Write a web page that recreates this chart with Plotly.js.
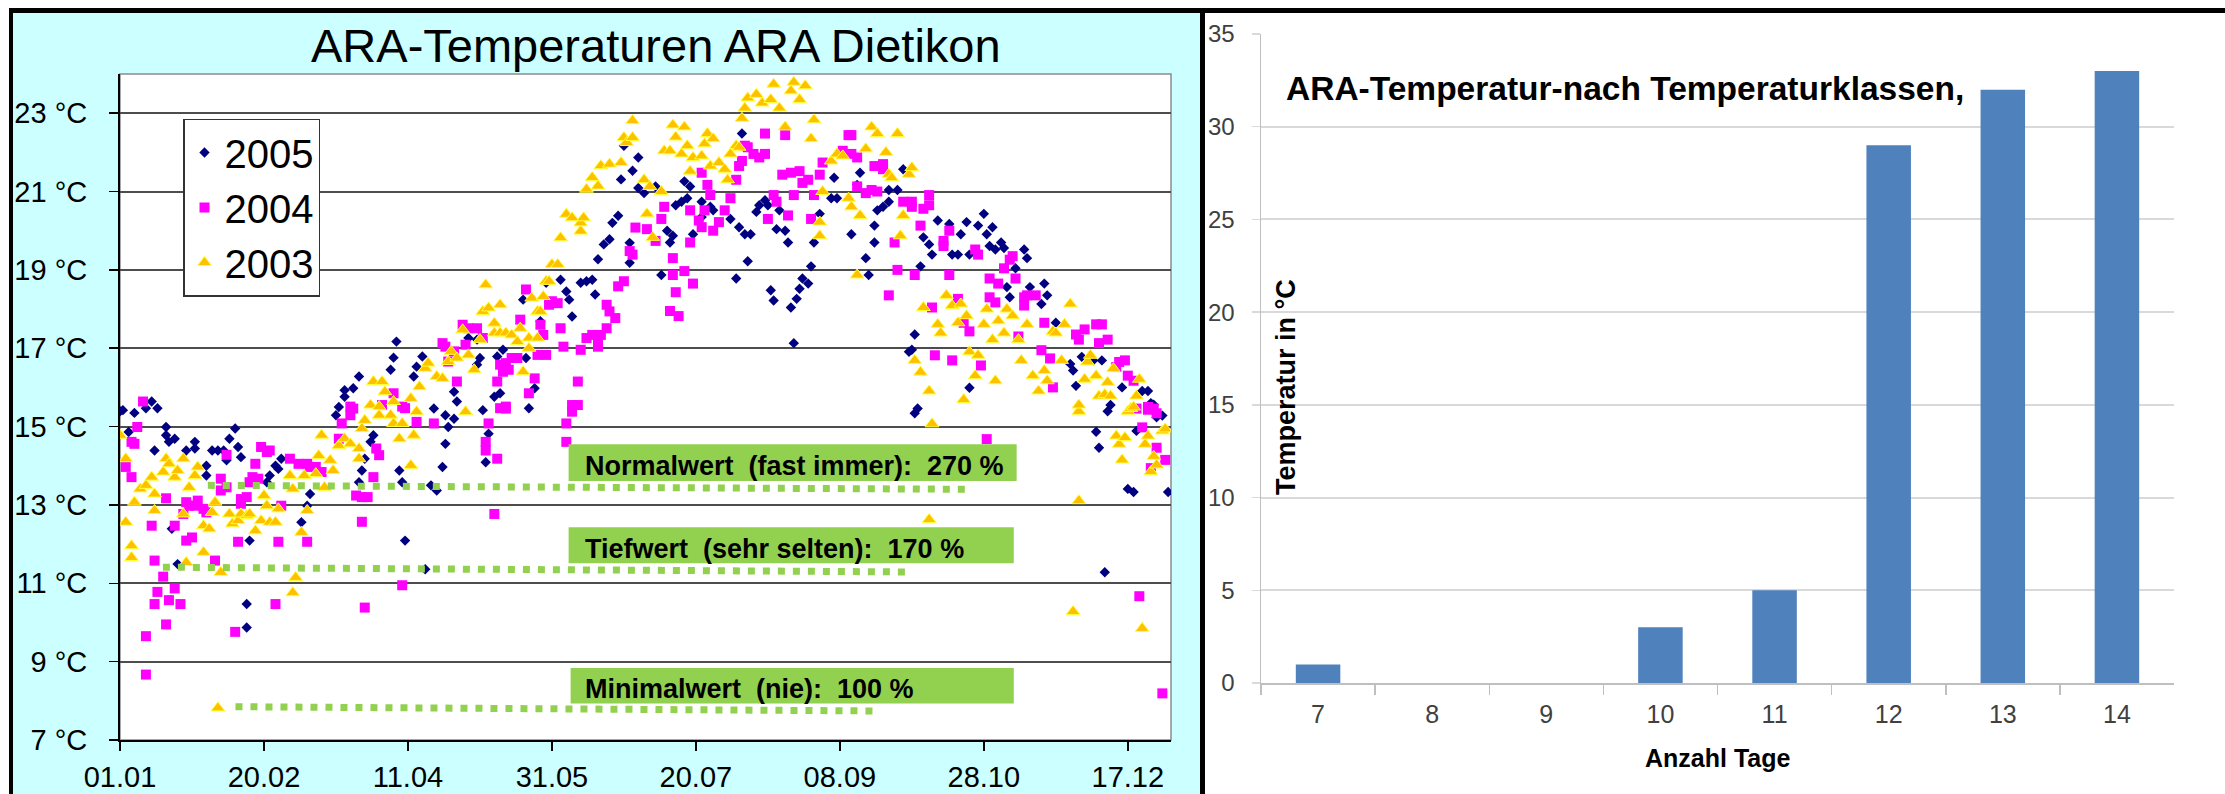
<!DOCTYPE html>
<html>
<head>
<meta charset="utf-8">
<script src="https://cdn.plot.ly/plotly-3.0.1.min.js"></script>
<style>html,body{margin:0;padding:0;background:#fff;}#chart{width:2225px;height:794px;}</style>
</head>
<body>
<div id="chart"></div>
<script>
// ---------- Left chart: daily temperatures (day of year, °C) ----------
const seriesNames = ['2005', '2004', '2003'];
const xTickDays = [0, 50, 100, 150, 200, 250, 300, 350];
const xTickLabels = ['01.01', '20.02', '11.04', '31.05', '20.07', '08.09', '28.10', '17.12'];
const yTickVals = [7, 9, 11, 13, 15, 17, 19, 21, 23];
const yTickLabels = ['7 °C', '9 °C', '11 °C', '13 °C', '15 °C', '17 °C', '19 °C', '21 °C', '23 °C'];

const day2005 = [0,1,3,5,9,11,12,13,16,16,17,18,19,20,23,26,26,30,30,32,34,36,37,38,40,41,42,44,44,45,51,52,54,55,56,63,65,66,75,76,78,78,81,83,83,84,85,87,88,94,95,96,97,98,99,102,103,105,106,108,109,110,112,113,113,114,116,116,117,121,124,124,125,126,127,128,130,131,132,133,140,141,142,144,146,148,153,155,156,157,160,162,164,165,166,168,170,171,173,174,175,177,177,178,180,180,182,186,188,190,191,192,193,195,196,197,198,199,202,202,205,206,212,214,215,216,217,218,219,221,222,224,225,226,227,228,229,231,232,233,234,235,236,237,239,240,241,243,247,248,249,254,256,257,259,260,262,262,263,265,267,267,270,272,274,275,276,276,277,278,279,281,282,284,288,289,291,292,294,295,295,298,300,301,302,303,304,306,307,308,309,311,314,315,316,320,321,322,325,330,331,332,334,338,339,340,341,342,343,344,348,350,352,353,355,357,358,359,360,362,364];
const temp2005 = [15.39,15.42,14.86,15.35,15.47,15.64,14.39,15.47,14.99,14.78,14.61,12.39,14.69,11.49,14.39,14.61,14.44,13.75,14.0,14.39,14.39,14.39,14.14,14.69,14.95,14.48,14.22,10.47,9.87,12.09,13.58,13.75,14.0,13.92,14.18,12.56,12.98,13.28,15.29,15.5,15.93,15.76,15.98,16.28,13.58,13.88,14.18,14.61,14.78,16.45,16.76,17.17,13.88,13.58,12.09,16.28,16.53,16.79,11.36,13.5,15.46,13.37,13.97,15.29,14.56,14.99,15.2,15.89,15.64,17.26,16.58,17.22,16.75,15.42,14.09,14.82,15.76,16.79,15.85,16.96,18.24,16.75,15.47,15.98,17.69,18.67,18.75,18.45,18.24,17.81,18.67,18.71,18.75,18.37,19.27,19.65,19.78,20.2,20.38,21.31,22.17,19.69,19.18,21.53,21.87,21.09,20.96,21.13,18.87,20.0,19.7,19.87,20.65,20.74,21.26,20.83,21.13,19.91,20.74,20.35,20.61,20.52,20.3,18.78,20.09,22.48,19.91,19.22,19.91,20.48,20.65,20.78,20.65,18.48,18.22,20.04,20.52,20.0,19.7,18.04,17.13,18.26,18.52,18.78,18.65,19.09,19.7,20.43,20.83,21.35,20.83,19.91,21.17,21.48,19.3,18.87,19.7,20.13,20.52,20.61,20.74,21.04,21.04,21.57,16.91,16.96,17.35,15.34,15.46,19.09,19.83,19.65,19.39,20.26,20.17,19.39,19.39,19.91,20.22,19.39,15.99,20.13,20.43,19.91,19.61,20.09,19.52,19.7,19.56,18.56,18.3,19.04,19.52,19.3,18.56,18.13,18.65,18.35,17.65,16.6,16.43,16.04,16.78,16.69,14.87,14.46,16.69,11.28,15.39,15.55,16.0,13.41,13.33,14.89,15.91,15.91,15.6,15.56,15.24,15.28,13.33];

const day2004 = [2,4,4,5,6,8,9,9,11,12,12,13,15,16,16,17,19,19,21,22,23,23,24,25,26,27,29,30,33,35,35,37,37,40,41,42,42,44,45,46,47,48,49,51,52,54,55,56,59,62,65,65,66,68,70,76,77,80,80,81,82,84,84,85,86,88,89,90,91,95,98,98,99,103,109,112,113,114,116,117,119,120,121,124,126,127,127,128,130,131,131,132,132,133,134,134,134,135,136,138,139,141,142,144,145,146,147,148,149,150,152,153,154,155,155,157,157,159,159,160,162,164,166,166,167,169,169,170,172,173,175,177,178,179,183,186,188,189,191,192,192,193,194,196,198,198,199,201,202,202,203,204,205,206,208,210,212,214,215,216,217,218,220,222,224,224,225,227,228,230,231,232,233,234,236,237,239,240,241,243,244,251,253,254,254,256,256,259,261,262,263,265,265,267,269,270,272,275,275,276,278,279,281,281,282,283,286,286,288,288,289,291,293,295,297,298,299,301,302,302,304,305,307,309,310,311,312,314,314,315,318,320,321,323,324,332,333,335,339,340,341,343,346,347,349,350,352,353,354,355,357,357,358,359,360,360,362,363];
const temp2004 = [13.97,14.61,13.71,14.56,14.99,15.64,8.67,9.65,12.47,10.47,11.58,10.78,11.17,13.17,9.95,10.57,12.47,10.87,10.47,12.77,13.07,12.09,12.98,12.17,12.98,13.11,12.9,12.81,11.58,13.37,13.67,13.45,14.28,9.76,12.06,13.15,13.03,13.2,13.58,13.71,14.05,13.67,14.48,14.35,14.39,10.47,12.06,12.98,14.18,14.05,14.05,12.06,13.97,13.97,13.84,14.69,15.08,15.29,15.51,15.46,13.24,13.2,12.57,10.38,13.2,13.71,14.44,14.27,15.55,15.85,15.51,10.95,15.47,15.12,15.08,17.13,17.04,16.66,16.92,16.15,17.6,17.09,17.51,17.51,17.26,14.39,14.61,15.08,12.77,14.18,16.15,16.58,15.47,16.4,16.62,15.51,15.46,16.45,16.75,16.75,17.73,18.5,15.85,16.23,16.83,17.6,17.34,16.83,18.11,18.2,18.15,17.51,17.04,15.08,14.61,15.38,15.55,15.55,16.15,16.96,17.26,17.34,17.26,17.04,17.34,17.51,18.11,17.94,17.77,18.58,18.71,19.48,19.39,20.08,20.04,19.74,20.3,20.61,17.95,19.3,18.87,18.43,17.82,18.97,19.7,20.52,18.65,20.26,21.48,20.09,20.52,21.17,20.91,20.0,20.22,20.52,20.83,21.3,21.65,21.78,22.17,22.13,21.96,21.87,21.96,22.48,20.3,20.91,20.74,21.43,22.44,20.39,21.48,20.91,21.52,21.22,21.3,20.3,20.91,21.43,21.74,22.04,22.44,22.44,21.96,21.87,21.13,20.96,21.04,21.65,21.0,21.57,21.7,18.35,19.7,19.0,20.74,20.74,20.61,18.87,20.13,20.56,20.91,20.65,18.04,16.82,19.61,19.74,20.0,18.87,16.69,18.26,17.65,17.43,19.52,19.39,16.56,14.68,18.78,18.3,18.17,18.65,19.04,19.26,19.35,18.78,17.3,18.3,18.09,18.35,18.35,16.95,17.65,16.74,16.0,17.35,17.22,17.48,17.61,17.13,17.61,17.22,16.52,16.65,16.69,16.3,16.17,15.46,10.67,14.98,15.43,15.5,13.94,15.46,15.34,14.46,8.19,14.15];

const day2003 = [0,2,2,4,4,5,7,9,11,12,12,15,16,17,19,20,22,22,23,24,26,27,29,29,31,32,33,34,35,38,39,41,42,44,45,47,49,50,51,52,54,55,59,60,60,61,63,64,65,68,69,70,71,73,74,76,78,80,83,83,84,85,87,88,90,90,91,92,94,95,95,97,98,101,101,102,103,104,106,107,110,112,114,115,117,119,120,121,123,125,126,127,128,130,130,132,132,134,136,138,139,140,142,142,143,145,145,146,147,148,149,150,152,153,155,157,160,160,161,162,164,166,167,170,174,175,176,178,178,182,183,184,185,188,189,191,192,193,195,196,197,198,199,202,203,204,205,206,208,210,211,212,214,215,216,217,218,221,223,226,227,229,231,233,234,236,238,240,241,243,243,244,247,249,251,253,254,256,257,259,261,263,266,267,268,270,271,272,274,275,276,278,279,281,281,282,284,285,287,289,291,292,293,294,295,297,298,300,301,303,304,305,307,308,310,312,313,315,317,319,321,322,324,325,327,328,330,331,333,333,333,335,336,337,339,340,342,343,344,345,346,347,348,349,350,351,352,353,354,355,356,357,358,359,360,362,363];
const temp2003 = [14.78,14.18,12.56,11.96,11.66,13.07,13.41,13.5,13.71,13.28,12.86,13.84,14.18,14.05,13.71,13.88,14.18,12.77,11.53,13.45,13.75,13.97,11.79,12.47,12.39,12.81,13.07,7.82,11.28,12.77,12.52,12.6,12.77,12.73,12.77,12.34,12.6,13.24,12.98,12.56,12.56,12.9,13.75,10.76,13.41,11.15,12.3,13.75,12.86,13.8,14.26,14.78,13.45,14.14,13.88,14.52,14.69,14.56,14.44,14.18,14.95,15.16,15.55,16.15,15.29,15.51,16.15,15.89,15.29,15.64,15.08,14.69,15.08,15.72,14.01,14.78,15.38,16.02,16.49,16.62,16.28,16.23,16.66,16.92,16.75,17.47,15.38,16.83,16.45,17.22,17.94,18.62,18.03,17.64,17.39,18.11,17.39,17.39,17.34,17.17,17.51,16.4,17.0,17.26,18.28,17.94,17.26,17.94,18.32,18.71,18.71,19.14,19.14,19.82,20.42,20.33,19.99,20.2,20.33,21.06,21.36,21.14,21.66,21.7,21.74,22.38,22.25,22.81,22.38,21.3,20.43,21.13,19.83,21.0,22.04,22.04,22.7,22.39,21.96,22.65,22.17,21.52,21.87,21.91,22.22,22.48,21.65,22.35,21.74,21.57,21.3,21.96,22.17,22.13,22.87,23.13,23.39,23.48,23.26,23.35,23.74,23.13,22.65,23.57,23.79,23.35,23.7,22.35,22.83,19.87,20.22,21.0,21.78,21.96,21.91,20.83,20.61,18.87,20.39,22.09,22.65,22.48,22.0,21.44,21.35,22.48,19.87,20.39,21.44,21.61,16.69,16.39,18.04,15.91,12.63,15.07,17.61,17.39,18.35,18.09,17.65,18.13,15.69,17.83,16.91,16.3,16.82,17.61,18.0,17.22,16.17,17.7,17.39,18.0,17.83,17.22,16.69,17.61,16.3,15.91,16.43,16.17,17.43,17.39,16.69,17.61,18.13,10.28,15.39,15.55,13.11,16.21,16.65,16.82,16.3,15.78,15.82,16.13,15.78,16.48,14.76,14.55,14.15,14.72,15.39,15.46,15.5,15.78,16.21,9.85,14.55,14.76,13.85,14.24,14.02,14.89,14.94];

const noteTexts = ['Normalwert\u00a0 (fast immer):\u00a0 270 %', 'Tiefwert\u00a0 (sehr selten):\u00a0 170 %', 'Minimalwert\u00a0 (nie):\u00a0 100 %'];

// ---------- Right chart: number of days per temperature class ----------
const classLabels = ['7', '8', '9', '10', '11', '12', '13', '14'];
const classCounts = [1, 0, 0, 3, 5, 29, 32, 33];

// ---------- drawing ----------
const W = 2225, H = 794;
const FONT = 'Liberation Sans, Arial, Helvetica, sans-serif';
const px = v => v / W;
const py = v => 1 - v / H;

const traces = [
  {x: day2005, y: temp2005, name: seriesNames[0], type: 'scatter', mode: 'markers', xaxis: 'x', yaxis: 'y',
   marker: {symbol: 'diamond', size: 8, color: '#000080', line: {width: 0}}},
  {x: day2004, y: temp2004, name: seriesNames[1], type: 'scatter', mode: 'markers', xaxis: 'x', yaxis: 'y',
   marker: {symbol: 'square', size: 10, color: '#FF00FF', line: {width: 0}}},
  {x: day2003, y: temp2003, name: seriesNames[2], type: 'scatter', mode: 'markers', xaxis: 'x', yaxis: 'y',
   marker: {symbol: 'triangle-up', size: 12, color: '#FFC000', line: {width: 1, color: '#FFFF33'}}},
  {x: classLabels, y: classCounts, type: 'bar', xaxis: 'x2', yaxis: 'y2', showlegend: false,
   marker: {color: '#4F81BD', line: {width: 0}}}
];

const shapes = [
  // panel backgrounds and frame
  {type: 'rect', xref: 'paper', yref: 'paper', x0: px(1205), x1: 1, y0: 0, y1: 1, fillcolor: '#FFFFFF', line: {width: 0}, layer: 'below'},
  {type: 'rect', xref: 'paper', yref: 'paper', x0: 0, x1: px(9), y0: 0, y1: 1, fillcolor: '#FFFFFF', line: {width: 0}, layer: 'below'},
  {type: 'rect', xref: 'paper', yref: 'paper', x0: 0, x1: 1, y0: py(8), y1: 1, fillcolor: '#FFFFFF', line: {width: 0}, layer: 'below'},
  {type: 'rect', xref: 'paper', yref: 'paper', x0: px(9), x1: 1, y0: py(13), y1: py(8), fillcolor: '#000000', line: {width: 0}, layer: 'below'},
  {type: 'rect', xref: 'paper', yref: 'paper', x0: px(9), x1: px(13), y0: 0, y1: py(8), fillcolor: '#000000', line: {width: 0}, layer: 'below'},
  {type: 'rect', xref: 'paper', yref: 'paper', x0: px(1200), x1: px(1205), y0: 0, y1: py(8), fillcolor: '#000000', line: {width: 0}, layer: 'below'},
  // left plot frame (grey top/right)
  {type: 'rect', xref: 'paper', yref: 'paper', x0: px(120), x1: px(1171), y0: py(740), y1: py(74), fillcolor: 'rgba(0,0,0,0)', line: {width: 1.5, color: '#8C8C8C'}, layer: 'below'},
  // green note boxes
  {type: 'rect', xref: 'x', yref: 'y', x0: 155.8, x1: 311.4, y0: 13.61, y1: 14.55, fillcolor: '#92D050', line: {width: 0}, layer: 'above'},
  {type: 'rect', xref: 'x', yref: 'y', x0: 155.8, x1: 310.4, y0: 11.51, y1: 12.43, fillcolor: '#92D050', line: {width: 0}, layer: 'above'},
  {type: 'rect', xref: 'x', yref: 'y', x0: 156.5, x1: 310.4, y0: 7.93, y1: 8.84, fillcolor: '#92D050', line: {width: 0}, layer: 'above'},
  // dotted level lines
  {type: 'line', xref: 'x', yref: 'y', x0: 30.5, x1: 293.5, y0: 13.50, y1: 13.40, line: {width: 7, color: '#92D050', dash: '7px,8px'}, layer: 'above'},
  {type: 'line', xref: 'x', yref: 'y', x0: 14.9, x1: 272.7, y0: 11.41, y1: 11.29, line: {width: 7, color: '#92D050', dash: '7px,8px'}, layer: 'above'},
  {type: 'line', xref: 'x', yref: 'y', x0: 40.1, x1: 263.4, y0: 7.85, y1: 7.74, line: {width: 7, color: '#92D050', dash: '7px,8px'}, layer: 'above'}
];

const noteY = [13.99, 11.87, 8.31];
const annotations = [
  {text: 'ARA-Temperaturen ARA Dietikon', xref: 'paper', yref: 'paper', x: px(656), y: py(45), xanchor: 'center', yanchor: 'middle',
   showarrow: false, font: {family: FONT, size: 47, color: '#000'}},
  {text: 'ARA-Temperatur-nach Temperaturklassen,', xref: 'paper', yref: 'paper', x: px(1284), y: py(88), xanchor: 'left', yanchor: 'middle',
   showarrow: false, font: {family: FONT, size: 33.5, color: '#000', weight: 'bold'}},
  {text: 'Temperatur in °C', xref: 'paper', yref: 'paper', x: px(1286), y: py(387), xanchor: 'center', yanchor: 'middle', textangle: -90,
   showarrow: false, font: {family: FONT, size: 27, color: '#000', weight: 'bold'}},
  {text: 'Anzahl Tage', xref: 'paper', yref: 'paper', x: px(1717), y: py(758), xanchor: 'center', yanchor: 'middle',
   showarrow: false, font: {family: FONT, size: 25, color: '#000', weight: 'bold'}}
];
noteTexts.forEach((t, i) => annotations.push({
  text: t, xref: 'x', yref: 'y', x: 160.7, y: noteY[i], xanchor: 'left', yanchor: 'middle', showarrow: false,
  font: {family: FONT, size: 27, color: '#000', weight: 'bold'}
}));

const layout = {
  width: W, height: H, autosize: false,
  margin: {l: 0, r: 0, t: 0, b: 0, pad: 0},
  paper_bgcolor: '#CCFFFF',
  plot_bgcolor: '#FFFFFF',
  font: {family: FONT, color: '#000'},
  showlegend: true,
  legend: {x: px(183), y: py(118.5), xanchor: 'left', yanchor: 'top', bgcolor: '#FFFFFF', bordercolor: '#333', borderwidth: 1.5,
           font: {family: FONT, size: 40, color: '#000'}, itemsizing: 'trace', tracegroupgap: 0},
  bargap: 0.61,
  xaxis: {domain: [px(120), px(1171)], range: [0, 365], tickvals: xTickDays, ticktext: xTickLabels,
          showgrid: false, zeroline: false, showline: true, linecolor: '#000', linewidth: 2,
          ticks: 'outside', ticklen: 9, tickwidth: 1.5, tickcolor: '#000', ticklabelstandoff: 1,
          tickfont: {family: FONT, size: 29, color: '#000'}, fixedrange: true},
  yaxis: {domain: [py(740), py(74)], range: [7, 24], tickvals: yTickVals, ticktext: yTickLabels,
          showgrid: true, gridcolor: '#4D4D4D', gridwidth: 2, zeroline: false, showline: true, linecolor: '#000', linewidth: 2,
          ticks: 'outside', ticklen: 9, tickwidth: 1.5, tickcolor: '#000', ticklabelstandoff: 16,
          tickfont: {family: FONT, size: 29, color: '#000'}, fixedrange: true},
  xaxis2: {domain: [px(1261), px(2174)], type: 'category', range: [-0.5, 7.5], anchor: 'y2',
           showgrid: false, zeroline: false, showline: true, linecolor: '#BFBFBF', linewidth: 2,
           ticks: 'outside', tickson: 'boundaries', ticklen: 10, tickwidth: 1.5, tickcolor: '#BFBFBF', ticklabelstandoff: 8,
           tickfont: {family: FONT, size: 25, color: '#404040'}, fixedrange: true},
  yaxis2: {domain: [py(683), py(34)], range: [0, 35], dtick: 5, anchor: 'x2',
           showgrid: true, gridcolor: '#D9D9D9', gridwidth: 2, zeroline: false, showline: true, linecolor: '#BFBFBF', linewidth: 1.5,
           ticks: 'outside', ticklen: 8, tickwidth: 1.5, tickcolor: '#D9D9D9', ticklabelstandoff: 12,
           tickfont: {family: FONT, size: 24, color: '#404040'}, fixedrange: true},
  shapes: shapes,
  annotations: annotations
};

Plotly.newPlot('chart', traces, layout, {staticPlot: true, displayModeBar: false});
</script>
</body>
</html>
